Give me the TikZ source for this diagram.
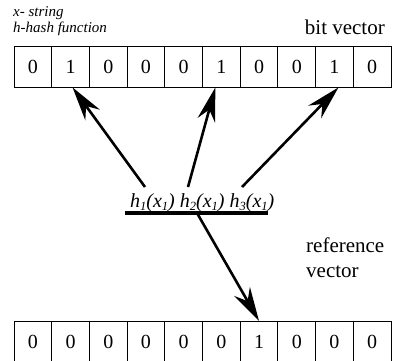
\documentclass[tikz,border=0pt]{standalone}
\usepackage{fontspec}
\newfontfamily\timesfont{Liberation Serif}
\usetikzlibrary{arrows.meta}
\newcommand\lowsub[1]{\raisebox{-0.18em}{\fontsize{12.5}{12.5}\selectfont #1}}
\tikzset{
  cell/.style={draw=black, line width=0.9pt, minimum width=37.7pt, minimum height=41pt,
    inner sep=0pt, font=\timesfont\fontsize{20}{20}\selectfont},
  hashline/.style={line width=2.6pt, -{Stealth[length=34pt, width=18pt, inset=11pt]}},
  small/.style={font=\timesfont\fontsize{15}{15}\selectfont\itshape, inner sep=0pt},
  big/.style={font=\timesfont\fontsize{21}{25}\selectfont, inner sep=0pt},
}
\begin{document}
\begin{tikzpicture}[x=1pt, y=-1pt]
\useasboundingbox (0,0) rectangle (396,361);

% legend
\node[small, anchor=base west] (lx) at (13,16.5) {x- string};
\node[small, anchor=base west] (lh) at (13,33) {h-hash function};

% bit vector
\node[big, anchor=base east] (bvlabel) at (385,35) {bit vector};
\foreach \v [count=\i from 0] in {0,1,0,0,0,1,0,0,1,0}
  \node[cell] (t\i) at ({14+37.7*(\i+0.5)},66.5) {\v};

% reference vector
\node[big, anchor=base west, align=left] (rvlabel) at (306,277) {reference\\vector};
\foreach \v [count=\i from 0] in {0,0,0,0,0,0,1,0,0,0}
  \node[cell] (b\i) at ({14+37.7*(\i+0.5)},341.5) {\v};

% hash values on the bar
\node[font=\timesfont\fontsize{20}{20}\selectfont\itshape, anchor=base west, inner sep=0pt] (hx) at (130,207)
  {h\lowsub{1}(x\lowsub{1}) h\lowsub{2}(x\lowsub{1}) h\lowsub{3}(x\lowsub{1})};
\coordinate (barL) at (125,213);
\coordinate (barR) at (268,213);
\draw[line width=4.5pt] (barL) -- (barR);

% arrow tails
\coordinate (s1) at (145,187);
\coordinate (s2) at (188,187);
\coordinate (s3) at (242,187);
\coordinate (s4) at (197,213);

\draw[hashline] (s1) -- ([xshift=2pt]t1.south);
\draw[hashline] (s2) -- ([xshift=-6pt]t5.south);
\draw[hashline] (s3) -- ([xshift=4pt]t8.south);
\draw[hashline] (s4) -- ([yshift=-0.5pt]b6.north);
\end{tikzpicture}
\end{document}
